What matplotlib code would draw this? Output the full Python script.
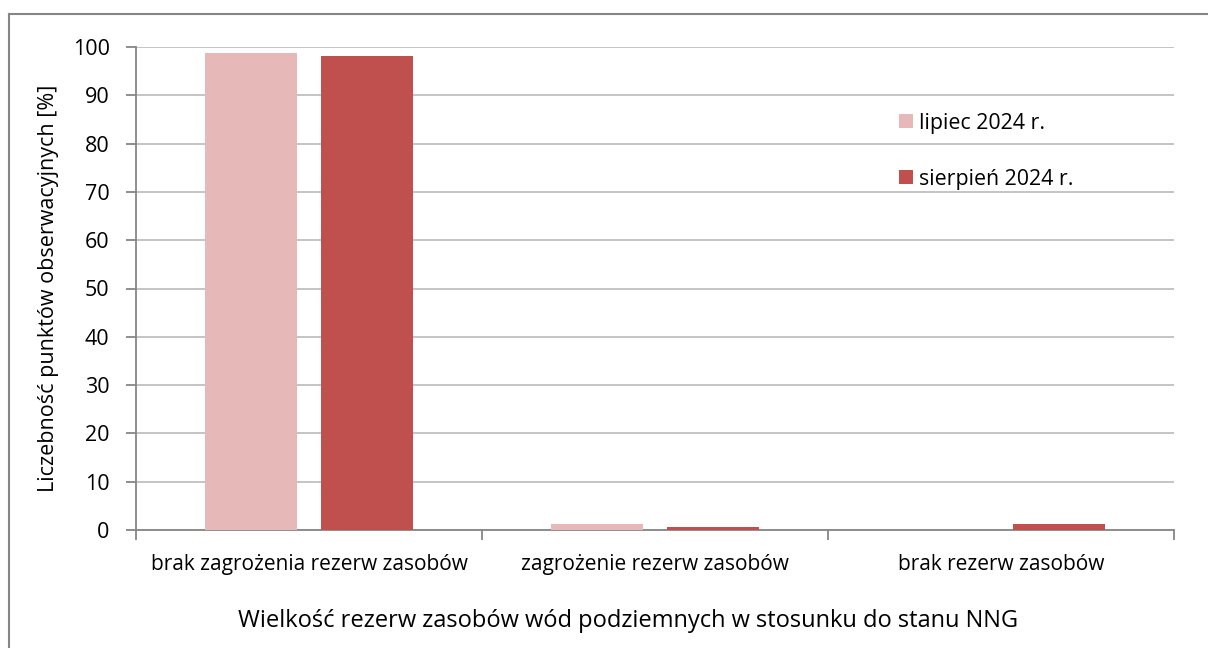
import numpy as np
import matplotlib
matplotlib.use("Agg")
import matplotlib.pyplot as plt
from matplotlib.lines import Line2D

# -----------------------------
# Data
# -----------------------------
categories = ["brak zagrożenia rezerw zasobów", "zagrożenie rezerw zasobów", "brak rezerw zasobów"]
series_names = ["lipiec 2024 r.", "sierpień 2024 r."]
lipiec = [98.8, 1.2, 0.0]
sierpien = [98.2, 0.6, 1.2]
y_ticks = [0, 10, 20, 30, 40, 50, 60, 70, 80, 90, 100]

colors = ["#E6B9B8", "#C0504D"]
axis_gray = "#868686"
grid_gray = "#BFBFBF"

plt.rcParams["font.family"] = ["Open Sans", "DejaVu Sans"]

fig = plt.figure(figsize=(12.08, 6.48), dpi=100)
ax = fig.add_axes([136 / 1208, 1 - 530 / 648, (1174 - 136) / 1208, (530 - 47) / 648])

x = np.arange(len(categories))
w = 0.267
ax.bar(x - 0.167, lipiec, w, color=colors[0], label=series_names[0], zorder=3)
ax.bar(x + 0.167, sierpien, w, color=colors[1], label=series_names[1], zorder=3)

ax.set_xlim(-0.5, len(categories) - 0.5)
ax.set_ylim(0, 100)
ax.set_yticks(y_ticks)
ax.yaxis.grid(True, color=grid_gray, linewidth=1.3, zorder=0)
ax.tick_params(axis="y", length=7, color=axis_gray, width=1.3, labelsize=15.5, pad=12)

# category labels sit between the boundary ticks
ax.set_xticks(np.arange(len(categories) + 1) - 0.5)
ax.set_xticklabels([])
ax.set_xticks(x, minor=True)
ax.set_xticklabels(categories, minor=True, fontsize=15)
ax.tick_params(axis="x", which="major", length=7, color=axis_gray, width=1.3)
ax.tick_params(axis="x", which="minor", length=0, pad=17)

for side in ["top", "right"]:
    ax.spines[side].set_visible(False)
for side in ["left", "bottom"]:
    ax.spines[side].set_color(axis_gray)
    ax.spines[side].set_linewidth(1.3)

ax.set_ylabel("Liczebność punktów obserwacyjnych [%]", fontsize=15.5, labelpad=10)
ax.set_xlabel("Wielkość rezerw zasobów wód podziemnych w stosunku do stanu NNG", fontsize=17)
ax.xaxis.set_label_coords(0.474, -0.164)

ax.legend(loc="upper left", bbox_to_anchor=(0.717, 0.904), frameon=False, fontsize=15.4,
          handlelength=0.62, handleheight=0.62, handletextpad=0.3, labelspacing=1.65)

# outer chart frame
fig.add_artist(Line2D([8.5 / 1208, 8.5 / 1208], [0, 1 - 14 / 648], color=axis_gray, linewidth=1.5))
fig.add_artist(Line2D([8.5 / 1208, 1], [1 - 14 / 648, 1 - 14 / 648], color=axis_gray, linewidth=1.5))

fig.savefig("out.png", dpi=100)
